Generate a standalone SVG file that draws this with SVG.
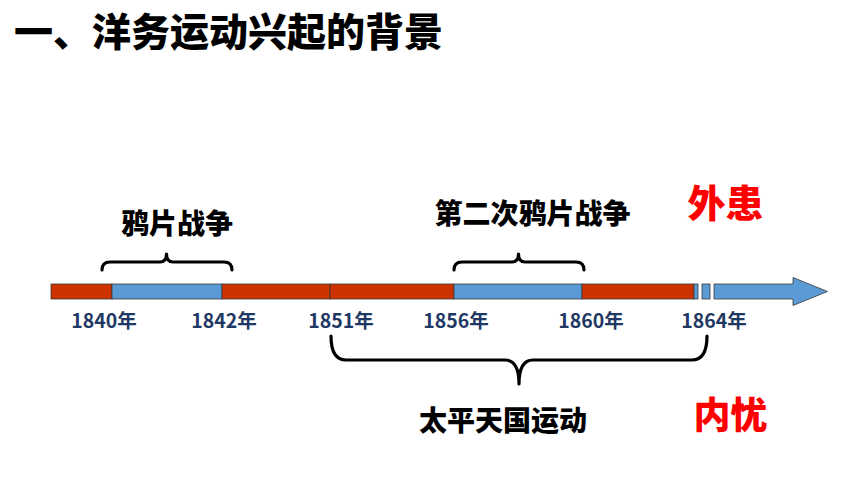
<svg xmlns="http://www.w3.org/2000/svg" width="860" height="484" viewBox="0 0 860 484">
<style>
.t{font-family:"Noto Sans CJK SC","Microsoft YaHei",sans-serif;font-weight:900;}
.yr{font-family:"Noto Sans CJK SC","Open Sans",sans-serif;font-weight:bold;font-size:19.5px;fill:#1F3864;text-anchor:middle;}
.lbl{font-size:28px;fill:#000;text-anchor:middle;}
.red{fill:#CC3300;stroke:#3a3a3a;stroke-width:0.8;}
.blue{fill:#5B9BD5;stroke:#3a3a3a;stroke-width:0.8;}
.brace{fill:none;stroke:#000;stroke-width:3.2;stroke-linecap:round;stroke-linejoin:round;}
</style>
<rect width="860" height="484" fill="#fff"/>
<text class="t" x="14" y="46" font-size="39" fill="#000">一、洋务运动兴起的背景</text>
<g id="timeline">
<rect class="red" x="51" y="284" width="61" height="15"/>
<rect class="blue" x="112" y="284" width="110" height="15"/>
<rect class="red" x="222" y="284" width="108" height="15"/>
<rect class="red" x="330" y="284" width="124" height="15"/>
<rect class="blue" x="454" y="284" width="128" height="15"/>
<rect class="red" x="582" y="284" width="112" height="15"/>
<rect class="blue" x="694" y="284" width="4" height="15"/>
<rect class="blue" x="702" y="284" width="8" height="15"/>
<path class="blue" d="M714,284 H793 V277.5 L827.5,291.5 L793,305.5 V299 H714 Z"/>
</g>
<g id="years">
<text class="yr" x="104" y="328">1840年</text>
<text class="yr" x="224" y="328">1842年</text>
<text class="yr" x="341" y="328">1851年</text>
<text class="yr" x="456" y="328">1856年</text>
<text class="yr" x="591" y="328">1860年</text>
<text class="yr" x="714" y="328">1864年</text>
</g>
<g id="connectors">
<path class="brace" d="M102,270 Q102,262 110,262 H160 Q166.5,262 166.5,254 Q166.5,262 173,262 H224 Q232,262 232,270"/>
<path class="brace" d="M454,270 Q454,262 462,262 H512 Q518.5,262 518.5,254 Q518.5,262 525,262 H576 Q584,262 584,270"/>
<path class="brace" stroke-width="4" d="M331,336 Q331,360 346,360 H505 Q519,360 519,384 Q519,360 533,360 H692 Q707,360 707,336"/>
</g>
<g id="opium1"><text class="t lbl" x="177" y="234">鸦片战争</text></g>
<g id="opium2"><text class="t lbl" x="532.5" y="224">第二次鸦片战争</text></g>
<g id="taiping"><text class="t lbl" x="503" y="431">太平天国运动</text></g>
<g id="waihuan"><text class="t" x="725.5" y="217" font-size="38" fill="#FF0000" text-anchor="middle">外患</text></g>
<g id="neiyou"><text class="t" x="730.5" y="429" font-size="37" fill="#FF0000" text-anchor="middle">内忧</text></g>
</svg>
